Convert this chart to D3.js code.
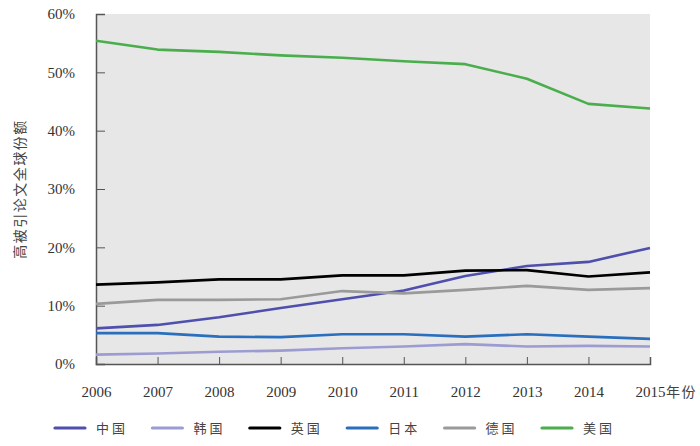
<!DOCTYPE html>
<html lang="zh">
<head>
<meta charset="UTF-8">
<title>高被引论文全球份额</title>
<script src="https://d3js.org/d3.v7.min.js"></script>
<style>
  body { margin: 0; background: #fff; }
  .tick text { font-family: "Liberation Serif", "DejaVu Serif", serif; font-size: 15px; fill: #333; }
  .cjk { font-family: "Noto Sans CJK SC", sans-serif; fill: #444; }
</style>
</head>
<body>
<script>
  // data (share of highly cited papers, %)
  const years = [2006, 2007, 2008, 2009, 2010, 2011, 2012, 2013, 2014, 2015];
  const countries = ["中国", "韩国", "英国", "日本", "德国", "美国"];
  const china   = [6.1, 6.7, 8.0, 9.6, 11.1, 12.6, 15.1, 16.8, 17.5, 19.9];
  const korea   = [1.6, 1.8, 2.1, 2.3, 2.7, 3.0, 3.4, 3.0, 3.1, 3.0];
  const uk      = [13.6, 14.0, 14.5, 14.5, 15.2, 15.2, 16.0, 16.1, 15.0, 15.7];
  const japan   = [5.3, 5.3, 4.7, 4.6, 5.1, 5.1, 4.7, 5.1, 4.7, 4.3];
  const germany = [10.3, 11.0, 11.0, 11.1, 12.5, 12.1, 12.7, 13.4, 12.7, 13.0];
  const usa     = [55.4, 53.9, 53.5, 52.9, 52.5, 51.9, 51.4, 48.9, 44.6, 43.8];
  const yTicks = [0, 10, 20, 30, 40, 50, 60];

  const seriesValues = [china, korea, uk, japan, germany, usa];
  const colors = ["#4f4fae", "#9c9cd2", "#000000", "#2a6fbd", "#9a9a9a", "#4aae4c"];

  const width = 700, height = 446;
  const plotLeft = 96, plotRight = 650, plotTop = 14, plotBottom = 364;

  const svg = d3.select("body").append("svg")
    .attr("width", width)
    .attr("height", height);

  const x = d3.scaleLinear().domain([2006, 2015]).range([plotLeft, plotRight]);
  const y = d3.scaleLinear().domain([0, 60]).range([plotBottom, plotTop]);

  // plot background
  svg.append("rect")
    .attr("x", plotLeft).attr("y", plotTop)
    .attr("width", plotRight - plotLeft).attr("height", plotBottom - plotTop)
    .attr("fill", "#e7e7e7");

  // y axis
  const yAxis = svg.append("g")
    .attr("transform", `translate(${plotLeft},0)`)
    .call(d3.axisLeft(y).tickValues(yTicks).tickFormat(d => d + "%").tickSize(-9).tickPadding(21));
  yAxis.select(".domain").attr("stroke", "#555").attr("stroke-width", 1.5);
  yAxis.selectAll(".tick line").attr("stroke", "#555");

  // x axis
  const xAxis = svg.append("g")
    .attr("transform", `translate(0,${plotBottom})`)
    .call(d3.axisBottom(x).tickValues(years).tickFormat(d3.format("d")).tickSize(-7).tickPadding(22));
  xAxis.select(".domain").attr("stroke", "#555").attr("stroke-width", 1.5);
  xAxis.selectAll(".tick line").attr("stroke", "#555");

  // "年份" after the last year label
  svg.append("text")
    .attr("class", "cjk")
    .attr("x", 666).attr("y", 397)
    .attr("font-size", 14)
    .attr("letter-spacing", 1.5)
    .text("年份");

  // y axis title
  svg.append("text")
    .attr("class", "cjk")
    .attr("transform", "translate(25,189) rotate(-90)")
    .attr("text-anchor", "middle")
    .attr("font-size", 14)
    .attr("letter-spacing", 1.5)
    .text("高被引论文全球份额");

  // lines
  const line = d3.line()
    .x((d, i) => x(years[i]))
    .y(d => y(d));

  svg.selectAll(".series")
    .data(seriesValues)
    .enter().append("path")
    .attr("class", "series")
    .attr("d", line)
    .attr("fill", "none")
    .attr("stroke", (d, i) => colors[i])
    .attr("stroke-width", 2.6)
    .attr("stroke-linejoin", "round");

  // legend
  const legend = svg.selectAll(".legend")
    .data(countries)
    .enter().append("g")
    .attr("class", "legend")
    .attr("transform", (d, i) => `translate(${55 + i * 97.4},428)`);

  legend.append("line")
    .attr("x1", 0).attr("x2", 30)
    .attr("stroke", (d, i) => colors[i])
    .attr("stroke-width", 3.2)
    .attr("stroke-linecap", "round");

  legend.append("text")
    .attr("class", "cjk")
    .attr("x", 41).attr("y", 5)
    .attr("font-size", 13)
    .attr("letter-spacing", 3)
    .text(d => d);
</script>
</body>
</html>
